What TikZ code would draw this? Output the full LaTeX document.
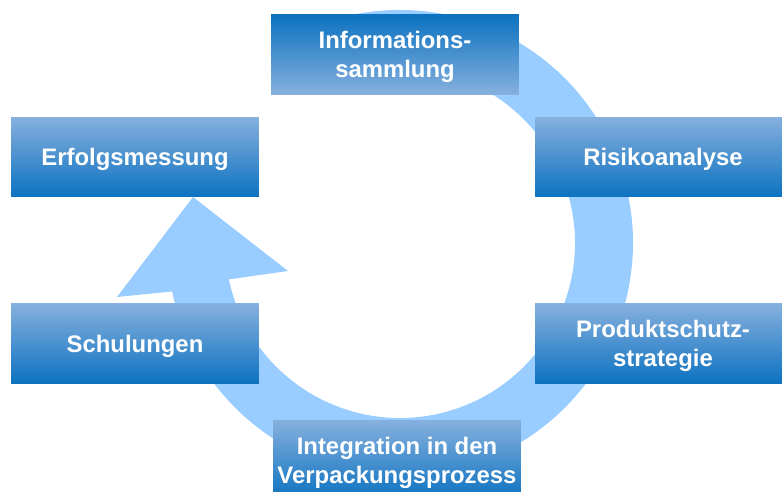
\documentclass[tikz,border=0pt]{standalone}
\usepackage{fontspec}
\setsansfont{Liberation Sans}
\usetikzlibrary{positioning}
\definecolor{cycleblue}{RGB}{153,204,255}
\definecolor{boxlight}{RGB}{134,176,222}
\definecolor{boxdark}{RGB}{12,114,192}
\tikzstyle{phasenode} = [rectangle, minimum width=4.96cm, minimum height=1.6cm, inner sep=0pt, text depth=0pt, align=center, text=white, font=\sffamily\bfseries\fontsize{13.6}{16.4}\selectfont, top color=boxlight, bottom color=boxdark]
\tikzstyle{phasenodetop} = [phasenode, top color=boxdark, bottom color=boxlight]
\tikzstyle{phasenodewide} = [phasenode, minimum width=5.12cm]

\begin{document}
\begin{tikzpicture}[x=0.02cm, y=0.02cm]
    \useasboundingbox (0,0) rectangle (782,491);

    % Cycle arrow
    \coordinate (hub) at (400,248);
    \fill[cycleblue] ([shift={(122:233)}]hub) arc[start angle=122, end angle=-168, radius=233]
        -- (117,194) -- (193,294) -- (288,220) -- ([shift={(-168:175)}]hub)
        arc[start angle=-168, end angle=122, radius=175] -- cycle;

    % Phases
    \node[phasenodetop] (info) at (395,436.5) {Informations-\\sammlung};
    \node[phasenodewide] (risiko) at (663,334) {Risikoanalyse};
    \node[phasenodewide, below=2.12cm of risiko] (produkt) {Produktschutz-\\strategie};
    \node[phasenode] (integration) at (397,31) {Integration in den\\Verpackungsprozess};
    \node[phasenode] (erfolg) at (135,334) {Erfolgsmessung};
    \node[phasenode, below=2.12cm of erfolg] (schulung) {Schulungen};
\end{tikzpicture}
\end{document}
